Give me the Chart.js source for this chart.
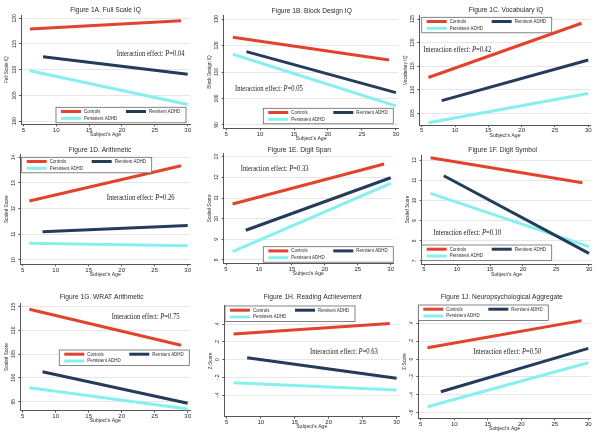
<!DOCTYPE html>
<html>
<head>
<meta charset="utf-8">
<script src="https://cdn.jsdelivr.net/npm/chart.js@4.4.1/dist/chart.umd.min.js"></script>
<style>
  body { margin: 0; background: #fff; }
  #wrap { position: relative; width: 600px; height: 434px; overflow: hidden; }
  #wrap canvas { position: absolute; }
</style>
</head>
<body>
<div id="wrap"></div>
<script>
// groups and the age span of each fitted line
var groups = ["Controls", "Remitent ADHD", "Persistent ADHD"];
var ages = [[6, 29], [8, 30], [6, 30]];
var ageTicks = [5, 10, 15, 20, 25, 30];

// fitted values at both ends of the line: controls, remitted, persistent
var fullScale = [[117.9, 119.5], [112.5, 109.1], [109.8, 103.2]];
var blockDesign = [[123.1, 114.5], [117.7, 102.2], [116.7, 97.2]];
var vocabulary = [[112.6, 124.1], [107.7, 116.3], [103.0, 109.2]];
var arithmetic = [[12.3, 13.67], [11.1, 11.34], [10.65, 10.55]];
var digitSpan = [[10.71, 12.65], [9.44, 11.98], [8.4, 11.71]];
var digitSymbol = [[12.11, 10.88], [11.22, 7.38], [10.35, 7.71]];
var wrat = [[114.45, 106.9], [101.3, 94.66], [97.95, 93.46]];
var reading = [[0.29, 0.41], [0.022, -0.21], [-0.26, -0.344]];
var aggregate = [[0.127, 0.43], [-0.366, 0.12], [-0.534, -0.041]];

var titles = ["Figure 1A. Full Scale IQ", "Figure 1B. Block Design IQ", "Figure 1C. Vocabulary IQ",
  "Figure 1D. Arithmetic", "Figure 1E. Digit Span", "Figure 1F. Digit Symbol",
  "Figure 1G. WRAT Arithmetic", "Figure 1H. Reading Achievement", "Figure 1J. Neuropsychological Aggregate"];
var yTitles = ["Full Scale IQ", "Block Design IQ", "Vocabulary IQ", "Scaled Score", "Scaled Score",
  "Scaled Score", "Scaled Score", "Z-Score", "Z-Score"];
var pValues = ["0.04", "0.05", "0.42", "0.26", "0.33", "0.10", "0.75", "0.63", "0.50"];
var yTicks = [
  [100, 105, 110, 115, 120], [90, 100, 110, 120, 130], [105, 110, 115, 120, 125],
  [10, 11, 12, 13, 14], [8, 9, 10, 11, 12, 13], [7, 8, 9, 10, 11, 12],
  [95, 100, 105, 110, 115], [-0.4, -0.2, 0, 0.2, 0.4], [-0.6, -0.4, -0.2, 0, 0.2, 0.4]
];
var series = [fullScale, blockDesign, vocabulary, arithmetic, digitSpan, digitSymbol, wrat, reading, aggregate];

var colors = ["#e2432d", "#243c5a", "#86f0ef"];

// plot box of each panel (panel pixels) and axis extent
var panels = [
  { x: 0, y: 0, h: 145, l: 21, r: 190, t: 15, b: 124.3, ymin: 99.36, ymax: 120.64, tx: 105.5, ty: 10, lg: [56, 107.3], nt: [116.7, 54] },
  { x: 200, y: 0, h: 145, l: 23.7, r: 198.3, t: 15.7, b: 128.3, ymin: 88.75, ymax: 131.25, tx: 111.7, ty: 11, lg: [63.3, 108.3], nt: [35, 89.3] },
  { x: 400, y: 0, h: 145, l: 19.4, r: 190.6, t: 15.7, b: 125, ymin: 102.52, ymax: 125.7, tx: 106, ty: 10, lg: [21.7, 17.3], nt: [23.3, 50] },
  { x: 0, y: 145, h: 145, l: 20.4, r: 190, t: 9, b: 119.3, ymin: 9.83, ymax: 14.13, tx: 100, ty: 5, lg: [21.7, 12.3], nt: [106.7, 52.7] },
  { x: 200, y: 145, h: 145, l: 23.7, r: 193, t: 8.4, b: 118.3, ymin: 7.84, ymax: 13.16, tx: 99.3, ty: 5, lg: [63.3, 101.7], nt: [40.7, 24] },
  { x: 400, y: 145, h: 145, l: 21.7, r: 191.3, t: 10, b: 119, ymin: 6.85, ymax: 12.25, tx: 102.7, ty: 5, lg: [21.7, 100], nt: [33.3, 88.3] },
  { x: 0, y: 290, h: 144, l: 20.4, r: 190, t: 13.4, b: 120.7, ymin: 93.1, ymax: 115.7, tx: 101.7, ty: 7.3, lg: [59.3, 60], nt: [111.7, 27.3] },
  { x: 200, y: 290, h: 144, l: 24.4, r: 199, t: 15, b: 126.7, ymin: -0.645, ymax: 0.618, tx: 112.7, ty: 7, lg: [25, 16], nt: [110, 62.3] },
  { x: 400, y: 290, h: 144, l: 18.4, r: 190.6, t: 15, b: 128.3, ymin: -0.663, ymax: 0.605, tx: 101.7, ty: 7, lg: [18.3, 15], nt: [73.3, 61.7] }
];

var SANS = "'Liberation Sans', Arial, sans-serif";
var SERIF = "'Liberation Serif', 'Times New Roman', serif";

function put(ctx, str, x, y, font, align, rot, squeeze) {
  ctx.save();
  ctx.translate(x, y);
  if (rot) ctx.rotate(rot);
  ctx.scale(squeeze || 0.88, 1);
  ctx.font = font;
  ctx.textAlign = align;
  ctx.textBaseline = "middle";
  ctx.fillText(str, 0, 0);
  ctx.restore();
}

function fmtTick(v) {
  if (Number.isInteger(v)) return String(v);
  return String(+v.toFixed(2)).replace("0.", ".");
}

var decor = {
  id: "decor",
  afterDraw: function(chart, args, o) {
    var ctx = chart.ctx, a = chart.chartArea, ys = chart.scales.y;
    ctx.fillStyle = "#2a2a2a";
    put(ctx, o.title, o.tx, o.ty, "7.4px " + SANS, "center", 0, 0.9);

    ys.ticks.forEach(function(t) {
      put(ctx, fmtTick(t.value), a.left - 7, ys.getPixelForValue(t.value), "6px " + SANS, "center", -Math.PI / 2, 0.82);
    });
    put(ctx, o.ytitle, a.left - 14, (a.top + a.bottom) / 2, "5.3px " + SANS, "center", -Math.PI / 2);
    put(ctx, "Subject's Age", (a.left + a.right) / 2, a.bottom + 10, "5.8px " + SANS, "center");

    // legend box
    var lx = o.lg[0], ly = o.lg[1], lw = 130, lh = 15.5;
    ctx.fillStyle = "#fff";
    ctx.fillRect(lx, ly, lw, lh);
    ctx.strokeStyle = "#666";
    ctx.lineWidth = 0.8;
    ctx.strokeRect(lx, ly, lw, lh);
    var spots = [[lx + 5, ly + 4.2], [lx + 70, ly + 4.2], [lx + 5, ly + 11]];
    groups.forEach(function(g, i) {
      ctx.strokeStyle = colors[i];
      ctx.lineWidth = 3;
      ctx.beginPath();
      ctx.moveTo(spots[i][0], spots[i][1]);
      ctx.lineTo(spots[i][0] + 20, spots[i][1]);
      ctx.stroke();
      ctx.fillStyle = "#2a2a2a";
      put(ctx, g, spots[i][0] + 23, spots[i][1], "5px " + SANS, "left");
    });

    // interaction note, P in italics
    ctx.save();
    ctx.translate(o.nt[0], o.nt[1]);
    ctx.scale(0.88, 1);
    ctx.fillStyle = "#1a1a1a";
    ctx.textBaseline = "middle";
    ctx.textAlign = "left";
    var x = 0;
    [["Interaction effect: ", ""], ["P", "italic "], ["=" + o.p, ""]].forEach(function(s) {
      ctx.font = s[1] + "7.5px " + SERIF;
      ctx.fillText(s[0], x, 0);
      x += ctx.measureText(s[0]).width;
    });
    ctx.restore();
  }
};

var wrap = document.getElementById("wrap");

panels.forEach(function(p, k) {
  var cv = document.createElement("canvas");
  cv.width = 200;
  cv.height = p.h;
  cv.style.left = p.x + "px";
  cv.style.top = p.y + "px";
  wrap.appendChild(cv);

  var vals = series[k];
  new Chart(cv, {
    type: "line",
    data: {
      datasets: groups.map(function(g, i) {
        return {
          label: g,
          data: ages[i].map(function(a, j) { return { x: a, y: vals[i][j] }; }),
          borderColor: colors[i],
          borderWidth: 3,
          pointRadius: 0,
          tension: 0,
          fill: false
        };
      })
    },
    options: {
      responsive: false,
      animation: false,
      devicePixelRatio: 1,
      layout: { padding: { left: 0, top: p.t, right: 200 - p.r, bottom: 0 } },
      plugins: {
        legend: { display: false },
        tooltip: { enabled: false },
        decor: { title: titles[k], ytitle: yTitles[k], p: pValues[k], tx: p.tx, ty: p.ty, lg: p.lg, nt: p.nt }
      },
      scales: {
        x: {
          type: "linear",
          min: 4.65,
          max: 30.35,
          afterBuildTicks: function(s) { s.ticks = ageTicks.map(function(v) { return { value: v }; }); },
          afterFit: function(s) { s.height = p.h - p.b; },
          grid: { drawOnChartArea: false, drawTicks: true, tickLength: 2, tickColor: "#555" },
          border: { color: "#555", width: 1 },
          ticks: { font: { size: 6, family: SANS }, color: "#2a2a2a", padding: 0, maxRotation: 0, autoSkip: false }
        },
        y: {
          min: p.ymin,
          max: p.ymax,
          afterBuildTicks: function(s) { s.ticks = yTicks[k].map(function(v) { return { value: v }; }); },
          afterFit: function(s) { s.width = p.l; },
          grid: { color: "#e6e6e6", lineWidth: 1, drawTicks: true, tickLength: 2, tickColor: "#555" },
          border: { color: "#555", width: 1 },
          ticks: { display: false }
        }
      }
    },
    plugins: [decor]
  });
});
</script>
</body>
</html>
